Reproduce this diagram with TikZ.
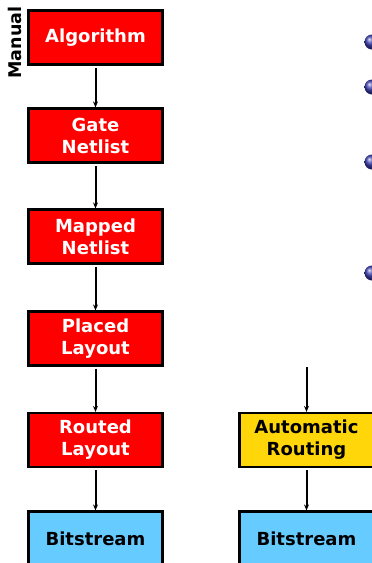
\documentclass[tikz,border=0pt]{standalone}
\usepackage{fontspec}
\setmainfont{DejaVu Sans}
\usetikzlibrary{arrows.meta}
\definecolor{boxred}{RGB}{255,0,0}
\definecolor{boxyellow}{RGB}{255,214,10}
\definecolor{boxblue}{RGB}{102,204,255}
\definecolor{ballblue}{RGB}{60,60,175}
\tikzset{
  flowbox/.style={draw=black, line width=2.2pt, minimum width=134pt, minimum height=54pt,
    inner sep=0pt, align=center, font=\fontsize{18}{22}\selectfont\bfseries},
  redbox/.style={flowbox, fill=boxred, text=white},
  yellowbox/.style={flowbox, fill=boxyellow, text=black},
  bluebox/.style={flowbox, fill=boxblue, text=black},
  flowarrow/.style={line width=2pt, -{Stealth[length=6pt,width=5pt]}, shorten <=2pt},
  sidelabel/.style={rotate=90, font=\fontsize{17.5}{20}\selectfont\bfseries, inner sep=0pt},
}
\begin{document}
\begin{tikzpicture}[x=1pt,y=1pt]
\useasboundingbox (0,0) rectangle (372,-563);
\clip (0,0) rectangle (372,-563);
\node[sidelabel] (manual) at (15,-42.5) {Manual};
\node[redbox] (alg) at (95.5,-37.5) {Algorithm};
\node[redbox] (gate) at (95.5,-135.5) {Gate\\Netlist};
\node[redbox] (mapped) at (95.5,-236.5) {Mapped\\Netlist};
\node[redbox] (placed) at (95.5,-338.5) {Placed\\Layout};
\node[redbox] (routed) at (95.5,-440) {Routed\\Layout};
\node[bluebox] (bits1) at (95.5,-538.5) {Bitstream};
\node[yellowbox] (auto) at (306.5,-440) {Automatic\\Routing};
\node[bluebox] (bits2) at (306.5,-538.5) {Bitstream};
\coordinate (autoin) at (306.5,-367);
\draw[flowarrow] (alg) -- (gate);
\draw[flowarrow] (gate) -- (mapped);
\draw[flowarrow] (mapped) -- (placed);
\draw[flowarrow] (placed) -- (routed);
\draw[flowarrow] (routed) -- (bits1);
\draw[flowarrow, shorten <=0pt] (autoin) -- (auto);
\draw[flowarrow] (auto) -- (bits2);
\foreach \yy in {42,87,162,273}
  \shade[ball color=ballblue] (372,-\yy) circle (7.5pt);
\end{tikzpicture}
\end{document}
